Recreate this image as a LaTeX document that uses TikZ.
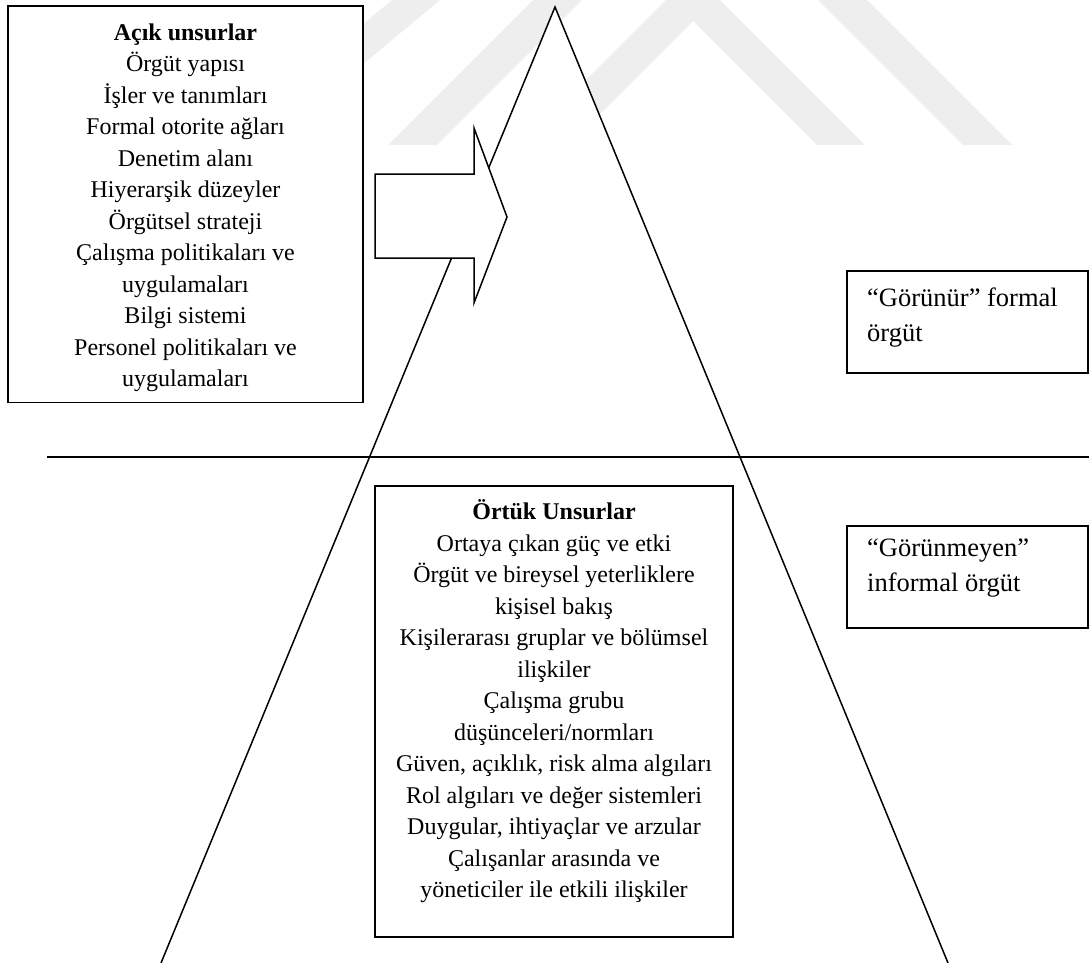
\documentclass[tikz,border=0pt]{standalone}
\usepackage{fontspec}
\setmainfont{Liberation Serif}
\definecolor{wm}{HTML}{EEEEEE}
\begin{document}
\begin{tikzpicture}[x=1pt,y=-1pt,
  frame/.style={draw=black, line width=1.8pt, fill=white, inner sep=0pt},
  edge/.style={draw=black, line width=1.5pt, line join=miter},
  band/.style={fill=wm, draw=none},
  list/.style={inner sep=0pt, align=center, anchor=north,
    font=\fontsize{24}{31.5}\selectfont},
  note/.style={inner sep=0pt, align=left, anchor=north west,
    font=\fontsize{26.5}{35}\selectfont},
]
\useasboundingbox (0,0) rectangle (1089,963);

% faint background emblem (chevron bands)
\fill[band] (152,240) -- (440,0) -- (392,0) -- (104,240) -- cycle;
\fill[band] (388,145) -- (437,145) -- (582,0) -- (533,0) -- cycle;
\fill[band] (818,0) -- (867,0) -- (1012,145) -- (963,145) -- cycle;
\fill[band] (521,145) -- (693,-27) -- (865,145) -- (817,145) -- (693,21) -- (569,145) -- cycle;

% the pyramid
\coordinate (apex) at (555,7);
\coordinate (baseL) at (161,963);
\coordinate (baseR) at (948,963);
\fill[white] (apex) -- (baseL) -- (baseR) -- cycle;
\draw[edge] (baseL) -- (apex) -- (baseR);

% visible elements
\node[frame, minimum width=355pt, minimum height=396.5pt] (open) at (185.5,204.25) {};
\node[list] (openlist) at (185.5,18) {\rule{0pt}{22pt}\textbf{Açık unsurlar}\\
  Örgüt yapısı\\
  İşler ve tanımları\\
  Formal otorite ağları\\
  Denetim alanı\\
  Hiyerarşik düzeyler\\
  Örgütsel strateji\\
  Çalışma politikaları ve\\
  uygulamaları\\
  Bilgi sistemi\\
  Personel politikaları ve\\
  uygulamaları};

% side labels
\node[frame, minimum width=241pt, minimum height=102pt] (formal) at (967.5,322) {};
\node[note] (formaltext) at (867,282) {\rule{0pt}{24pt}“Görünür” formal\\örgüt};
\node[frame, minimum width=241pt, minimum height=102pt] (informal) at (967.5,577) {};
\node[note] (informaltext) at (867,532) {\rule{0pt}{24pt}“Görünmeyen”\\informal örgüt};

% waterline
\coordinate (divL) at (47,457);
\coordinate (divR) at (1089,457);
\draw[line width=2.2pt] (divL) -- (divR);

% hidden elements
\node[frame, minimum width=358pt, minimum height=451pt] (covert) at (554,711.5) {};
\node[list] (covertlist) at (554,497.3) {\rule{0pt}{22pt}\textbf{Örtük Unsurlar}\\
  Ortaya çıkan güç ve etki\\
  Örgüt ve bireysel yeterliklere\\
  kişisel bakış\\
  Kişilerarası gruplar ve bölümsel\\
  ilişkiler\\
  Çalışma grubu\\
  düşünceleri/normları\\
  Güven, açıklık, risk alma algıları\\
  Rol algıları ve değer sistemleri\\
  Duygular, ihtiyaçlar ve arzular\\
  Çalışanlar arasında ve\\
  yöneticiler ile etkili ilişkiler};

% block arrow pointing into the pyramid
\draw[edge, fill=white] (375,174) -- (474,174) -- (474,128) -- (507,217)
  -- (474,303) -- (474,258) -- (375,258) -- cycle;
\end{tikzpicture}
\end{document}
